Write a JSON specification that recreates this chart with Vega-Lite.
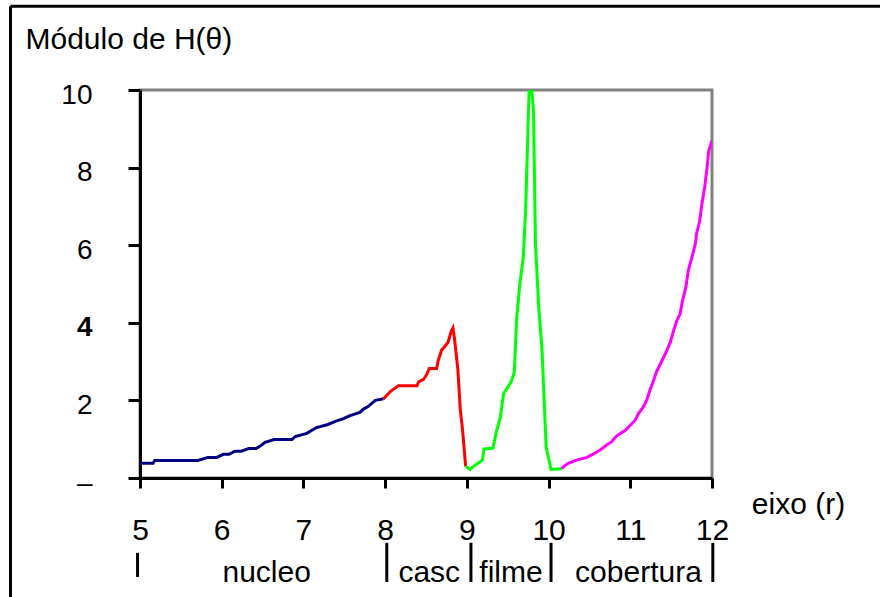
{
  "$schema": "https://vega.github.io/schema/vega-lite/v6.json",
  "width": 572,
  "height": 388,
  "autosize": {"type": "none"},
  "padding": {"left": 140, "top": 90, "right": 168, "bottom": 119},
  "background": "white",
  "config": {
    "font": "Liberation Sans",
    "view": {"stroke": "#808080", "strokeWidth": 3},
    "axis": {"grid": false, "domainColor": "black", "domainWidth": 3, "tickColor": "black", "tickWidth": 3, "labelColor": "black", "titleColor": "black", "labelFont": "Liberation Sans", "titleFont": "Liberation Sans", "titleFontWeight": "normal"}
  },
  "layer": [
    {
      "data": {"values": [
        {"r": 5.0, "h": 0.38, "seg": "nucleo"},
        {"r": 5.16, "h": 0.38, "seg": "nucleo"},
        {"r": 5.18, "h": 0.45, "seg": "nucleo"},
        {"r": 5.71, "h": 0.45, "seg": "nucleo"},
        {"r": 5.83, "h": 0.53, "seg": "nucleo"},
        {"r": 5.94, "h": 0.53, "seg": "nucleo"},
        {"r": 6.02, "h": 0.61, "seg": "nucleo"},
        {"r": 6.09, "h": 0.61, "seg": "nucleo"},
        {"r": 6.16, "h": 0.69, "seg": "nucleo"},
        {"r": 6.24, "h": 0.69, "seg": "nucleo"},
        {"r": 6.33, "h": 0.76, "seg": "nucleo"},
        {"r": 6.42, "h": 0.76, "seg": "nucleo"},
        {"r": 6.48, "h": 0.84, "seg": "nucleo"},
        {"r": 6.53, "h": 0.92, "seg": "nucleo"},
        {"r": 6.64, "h": 0.99, "seg": "nucleo"},
        {"r": 6.86, "h": 0.99, "seg": "nucleo"},
        {"r": 6.9, "h": 1.07, "seg": "nucleo"},
        {"r": 7.04, "h": 1.15, "seg": "nucleo"},
        {"r": 7.16, "h": 1.3, "seg": "nucleo"},
        {"r": 7.3, "h": 1.38, "seg": "nucleo"},
        {"r": 7.39, "h": 1.46, "seg": "nucleo"},
        {"r": 7.49, "h": 1.53, "seg": "nucleo"},
        {"r": 7.57, "h": 1.61, "seg": "nucleo"},
        {"r": 7.69, "h": 1.69, "seg": "nucleo"},
        {"r": 7.73, "h": 1.77, "seg": "nucleo"},
        {"r": 7.79, "h": 1.84, "seg": "nucleo"},
        {"r": 7.88, "h": 2.0, "seg": "nucleo"},
        {"r": 7.98, "h": 2.04, "seg": "nucleo"},
        {"r": 7.98, "h": 2.04, "seg": "casc"},
        {"r": 8.03, "h": 2.15, "seg": "casc"},
        {"r": 8.07, "h": 2.24, "seg": "casc"},
        {"r": 8.12, "h": 2.31, "seg": "casc"},
        {"r": 8.16, "h": 2.38, "seg": "casc"},
        {"r": 8.39, "h": 2.38, "seg": "casc"},
        {"r": 8.41, "h": 2.48, "seg": "casc"},
        {"r": 8.47, "h": 2.54, "seg": "casc"},
        {"r": 8.51, "h": 2.67, "seg": "casc"},
        {"r": 8.54, "h": 2.82, "seg": "casc"},
        {"r": 8.63, "h": 2.82, "seg": "casc"},
        {"r": 8.65, "h": 3.03, "seg": "casc"},
        {"r": 8.69, "h": 3.29, "seg": "casc"},
        {"r": 8.73, "h": 3.39, "seg": "casc"},
        {"r": 8.77, "h": 3.5, "seg": "casc"},
        {"r": 8.81, "h": 3.79, "seg": "casc"},
        {"r": 8.83, "h": 3.87, "seg": "casc"},
        {"r": 8.85, "h": 3.57, "seg": "casc"},
        {"r": 8.89, "h": 2.79, "seg": "casc"},
        {"r": 8.92, "h": 1.75, "seg": "casc"},
        {"r": 8.95, "h": 1.19, "seg": "casc"},
        {"r": 8.985, "h": 0.3, "seg": "casc"},
        {"r": 8.985, "h": 0.3, "seg": "filme"},
        {"r": 9.04, "h": 0.22, "seg": "filme"},
        {"r": 9.1, "h": 0.33, "seg": "filme"},
        {"r": 9.19, "h": 0.46, "seg": "filme"},
        {"r": 9.21, "h": 0.75, "seg": "filme"},
        {"r": 9.32, "h": 0.77, "seg": "filme"},
        {"r": 9.36, "h": 1.18, "seg": "filme"},
        {"r": 9.41, "h": 1.57, "seg": "filme"},
        {"r": 9.45, "h": 2.18, "seg": "filme"},
        {"r": 9.54, "h": 2.47, "seg": "filme"},
        {"r": 9.58, "h": 2.72, "seg": "filme"},
        {"r": 9.61, "h": 4.11, "seg": "filme"},
        {"r": 9.65, "h": 5.04, "seg": "filme"},
        {"r": 9.69, "h": 5.68, "seg": "filme"},
        {"r": 9.72, "h": 6.94, "seg": "filme"},
        {"r": 9.77, "h": 10.6, "seg": "filme"},
        {"r": 9.815, "h": 9.5, "seg": "filme"},
        {"r": 9.84, "h": 6.0, "seg": "filme"},
        {"r": 9.88, "h": 4.4, "seg": "filme"},
        {"r": 9.92, "h": 3.3, "seg": "filme"},
        {"r": 9.97, "h": 0.8, "seg": "filme"},
        {"r": 10.03, "h": 0.22, "seg": "filme"},
        {"r": 10.16, "h": 0.24, "seg": "filme"},
        {"r": 10.16, "h": 0.24, "seg": "cobertura"},
        {"r": 10.18, "h": 0.29, "seg": "cobertura"},
        {"r": 10.24, "h": 0.38, "seg": "cobertura"},
        {"r": 10.34, "h": 0.46, "seg": "cobertura"},
        {"r": 10.47, "h": 0.53, "seg": "cobertura"},
        {"r": 10.55, "h": 0.62, "seg": "cobertura"},
        {"r": 10.63, "h": 0.72, "seg": "cobertura"},
        {"r": 10.71, "h": 0.85, "seg": "cobertura"},
        {"r": 10.77, "h": 0.93, "seg": "cobertura"},
        {"r": 10.83, "h": 1.08, "seg": "cobertura"},
        {"r": 10.94, "h": 1.23, "seg": "cobertura"},
        {"r": 11.0, "h": 1.36, "seg": "cobertura"},
        {"r": 11.06, "h": 1.49, "seg": "cobertura"},
        {"r": 11.1, "h": 1.66, "seg": "cobertura"},
        {"r": 11.16, "h": 1.83, "seg": "cobertura"},
        {"r": 11.2, "h": 2.0, "seg": "cobertura"},
        {"r": 11.24, "h": 2.26, "seg": "cobertura"},
        {"r": 11.28, "h": 2.48, "seg": "cobertura"},
        {"r": 11.32, "h": 2.73, "seg": "cobertura"},
        {"r": 11.38, "h": 2.99, "seg": "cobertura"},
        {"r": 11.44, "h": 3.25, "seg": "cobertura"},
        {"r": 11.49, "h": 3.5, "seg": "cobertura"},
        {"r": 11.53, "h": 3.8, "seg": "cobertura"},
        {"r": 11.57, "h": 4.06, "seg": "cobertura"},
        {"r": 11.61, "h": 4.23, "seg": "cobertura"},
        {"r": 11.64, "h": 4.58, "seg": "cobertura"},
        {"r": 11.68, "h": 4.92, "seg": "cobertura"},
        {"r": 11.71, "h": 5.35, "seg": "cobertura"},
        {"r": 11.75, "h": 5.65, "seg": "cobertura"},
        {"r": 11.8, "h": 6.07, "seg": "cobertura"},
        {"r": 11.81, "h": 6.29, "seg": "cobertura"},
        {"r": 11.85, "h": 6.63, "seg": "cobertura"},
        {"r": 11.87, "h": 6.97, "seg": "cobertura"},
        {"r": 11.91, "h": 7.49, "seg": "cobertura"},
        {"r": 11.94, "h": 8.0, "seg": "cobertura"},
        {"r": 11.96, "h": 8.43, "seg": "cobertura"},
        {"r": 12.0, "h": 8.69, "seg": "cobertura"}
      ]},
      "mark": {"type": "line", "strokeWidth": 3, "clip": true, "interpolate": "linear"},
      "encoding": {
        "x": {
          "field": "r", "type": "quantitative",
          "scale": {"domain": [5, 12], "nice": false, "zero": false},
          "axis": {
            "values": [5, 6, 7, 8, 9, 10, 11, 12], "format": "d",
            "tickSize": 10, "labelFontSize": 30, "labelPadding": 27, "labelFlush": false, "labelOverlap": false,
            "title": "eixo (r)", "titleFontSize": 30, "titleX": 658, "titleY": 35, "titleAlign": "center", "titleBaseline": "alphabetic"
          }
        },
        "y": {
          "field": "h", "type": "quantitative",
          "scale": {"domain": [0, 10], "nice": false, "zero": false},
          "axis": {
            "values": [0, 2, 4, 6, 8, 10],
            "tickSize": 12, "labelFontSize": 28, "labelPadding": 36, "labelOffset": 5, "labelFlush": false, "labelOverlap": false,
            "labelExpr": "datum.value == 0 ? '–' : datum.label",
            "labelFontWeight": {"condition": {"test": "datum.value == 4", "value": "bold"}, "value": "normal"},
            "title": "Módulo de H(θ)", "titleFontSize": 30, "titleAngle": 0, "titleX": -115, "titleY": -42, "titleAlign": "left", "titleBaseline": "alphabetic"
          }
        },
        "color": {
          "field": "seg", "type": "nominal",
          "scale": {"domain": ["nucleo", "casc", "filme", "cobertura"], "range": ["#000080", "#ff0000", "#00ff00", "#ff00ff"]},
          "legend": null
        }
      }
    },
    {
      "data": {"values": [
        {"r": 6.55, "label": "nucleo"},
        {"r": 8.54, "label": "casc"},
        {"r": 9.54, "label": "filme"},
        {"r": 11.1, "label": "cobertura"}
      ]},
      "mark": {"type": "text", "fontSize": 30, "baseline": "alphabetic", "align": "center", "color": "black", "font": "Liberation Sans"},
      "encoding": {
        "x": {"field": "r", "type": "quantitative"},
        "y": {"datum": -2.68},
        "text": {"field": "label"}
      }
    },
    {
      "data": {"values": [{"r": 8.02}, {"r": 9.05}, {"r": 10.03}, {"r": 12.01}]},
      "mark": {"type": "rule", "strokeWidth": 3, "color": "black"},
      "encoding": {
        "x": {"field": "r", "type": "quantitative"},
        "y": {"datum": -1.67},
        "y2": {"datum": -2.68}
      }
    },
    {
      "data": {"values": [{"r": 4.97}]},
      "mark": {"type": "rule", "strokeWidth": 3, "color": "black"},
      "encoding": {
        "x": {"field": "r", "type": "quantitative"},
        "y": {"datum": -1.93},
        "y2": {"datum": -2.55}
      }
    },
    {
      "data": {"values": [{}]},
      "mark": {"type": "rule", "strokeWidth": 3, "color": "black"},
      "encoding": {
        "x": {"datum": 3.415},
        "x2": {"datum": 14.3},
        "y": {"datum": 12.16}
      }
    },
    {
      "data": {"values": [{}]},
      "mark": {"type": "rule", "strokeWidth": 3, "color": "black"},
      "encoding": {
        "x": {"datum": 3.415},
        "y": {"datum": 12.16},
        "y2": {"datum": -3.3}
      }
    }
  ]
}
